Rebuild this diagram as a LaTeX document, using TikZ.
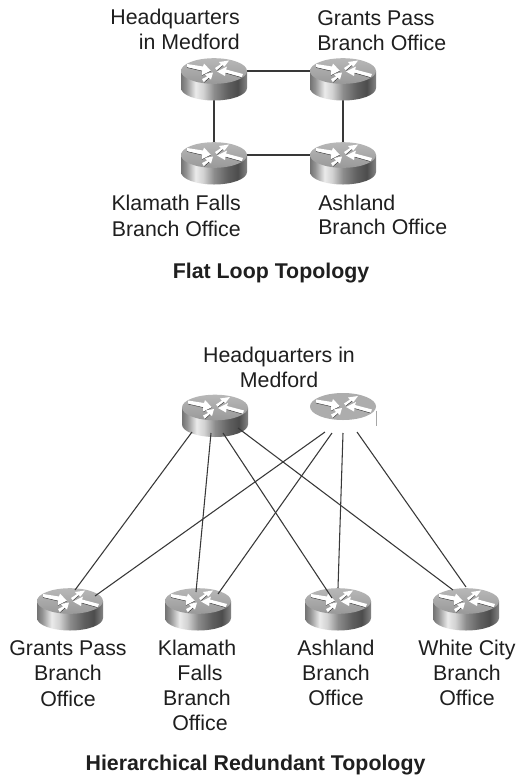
\documentclass[tikz,border=0pt]{standalone}
\usepackage{fontspec}
\setmainfont{Liberation Sans}
\pgfdeclarehorizontalshading{rbody}{100bp}{color(0bp)=(black!55); color(25bp)=(black!55); color(29bp)=(black!42); color(36bp)=(black!8); color(42bp)=(black!18); color(50bp)=(black!45); color(60bp)=(black!62); color(68bp)=(black!70); color(75bp)=(black!48); color(100bp)=(black!48)}
\pgfdeclareverticalshading{rtop}{100bp}{color(0bp)=(black!40); color(25bp)=(black!40); color(75bp)=(black!28); color(100bp)=(black!28)}
\tikzset{
  x=0.75pt,y=-0.75pt,
  rnode/.style={inner sep=0pt,minimum size=0pt},
  wire/.style={draw=black!78,line width=0.8pt},
  lab/.style={font=\fontsize{16pt}{18.9pt}\selectfont,align=center,inner sep=0pt,text=black!88},
  rlab/.style={lab,align=right},
  llab/.style={lab,align=left},
  ttl/.style={font=\bfseries\fontsize{16pt}{19pt}\selectfont,inner sep=0pt,text=black!88,anchor=base},
  shadowline/.style={draw=black!85,line width=0.3pt},
  rarrows/.pic={
    \fill[white] (-27,-7) -- (-11,-4.5) -- (-10,-7.5) -- (-3,0) -- (-12,4.5) -- (-12,0) -- (-27,-3.5) -- cycle;
    \draw[shadowline] (-27,-3.5) -- (-12,0) (-12,4.5) -- (-3,0);
    \fill[white] (1,-3) -- (7,-7) -- (5,-9) -- (15,-10.5) -- (10.5,-4.5) -- (9,-5.5) -- (3,-0.5) -- cycle;
    \draw[shadowline] (3,-0.5) -- (9,-5.5);
    \fill[white] (29,3) -- (12,-1.5) -- (13,-4.5) -- (3,0.5) -- (11,5) -- (11.5,2) -- (27.5,6.5) -- cycle;
    \draw[shadowline] (27.5,6.5) -- (11.5,2);
    \fill[white] (-12,8) -- (-7,5.5) -- (-9,3) -- (-1,1.5) -- (-3,8.5) -- (-5,7) -- (-10,11.5) -- cycle;
    \draw[shadowline] (-10,11.5) -- (-5,7);
  },
  router/.pic={
    \shade[shading=rbody] (-33,0) -- (-33,17) arc[start angle=180,end angle=0,x radius=33,y radius=12.5] -- (33,0) -- cycle;
    \shade[shading=rtop] (0,0) ellipse[x radius=33,y radius=12.8];
    \pic {rarrows};
  },
  whiterouter/.pic={
    \fill[black!32] (0,0) ellipse[x radius=33,y radius=13.5];
    \pic {rarrows};
    \draw[black!35,line width=0.5pt] (33,4) -- (33,19);
  }
}
\begin{document}
\begin{tikzpicture}
\useasboundingbox (0,0) rectangle (516,776);
\fill[white] (0,0) rectangle (516,776);
% router anchors
\node[rnode] (hq) at (214,71) {};
\node[rnode] (gp) at (343,71) {};
\node[rnode] (kf) at (214,155) {};
\node[rnode] (as) at (343,155) {};
\node[rnode] (h1) at (215,407.5) {};
\node[rnode] (h2) at (343,406.5) {};
\node[rnode] (b1) at (70,601) {};
\node[rnode] (b2) at (198,601) {};
\node[rnode] (b3) at (338,601) {};
\node[rnode] (b4) at (466,601) {};
% connector ends on the routers
\coordinate (s1) at (192,432);
\coordinate (s2) at (211,433);
\coordinate (s3) at (223,433);
\coordinate (s4) at (238,428);
\coordinate (u1) at (325,432);
\coordinate (u2) at (332,433);
\coordinate (u3) at (343,433);
\coordinate (u4) at (357,432);
\coordinate (e1) at (75,590);
\coordinate (e2) at (196,592);
\coordinate (e3) at (332,598);
\coordinate (e4) at (453,590);
\coordinate (f1) at (95,596);
\coordinate (f2) at (218,594);
\coordinate (f3) at (338,588);
\coordinate (f4) at (466,587);
% flat loop connectors
\draw[wire] (hq) -- (gp);
\draw[wire] (gp) -- (as);
\draw[wire] (as) -- (kf);
\draw[wire] (kf) -- (hq);
% routers
\pic at (hq) {router};
\pic at (gp) {router};
\pic at (kf) {router};
\pic at (as) {router};
\pic at (h1) {router};
\pic at (h2) {whiterouter};
\pic at (b1) {router};
\pic at (b2) {router};
\pic at (b3) {router};
\pic at (b4) {router};
% hierarchical connectors
\draw[wire] (s1) -- (e1);
\draw[wire] (s2) -- (e2);
\draw[wire] (s3) -- (e3);
\draw[wire] (s4) -- (e4);
\draw[wire] (u1) -- (f1);
\draw[wire] (u2) -- (f2);
\draw[wire] (u3) -- (f3);
\draw[wire] (u4) -- (f4);
% labels
\node[rlab,anchor=north east] (t1) at (240,8.5) {Headquarters\\in Medford};
\node[llab,anchor=north west] (t2) at (317,10) {Grants Pass\\Branch Office};
\node[rlab,anchor=north east] (t3) at (241,194.5) {Klamath Falls\\[0.75pt]Branch Office};
\node[llab,anchor=north west] (t4) at (318,194.5) {Ashland\\[-0.75pt]Branch Office};
\node[ttl] (t5) at (271,278) {Flat Loop Topology};
\node[lab,anchor=north] (t6) at (279,346.5) {Headquarters in\\Medford};
\node[lab,anchor=north] (t7) at (68,640.5) {Grants Pass\\Branch\\Office};
\node[lab,anchor=north] (t8) at (197,639.5) {Klamath\\\hspace*{4.5pt}Falls\\Branch\\\hspace*{4.5pt}Office};
\node[lab,anchor=north] (t9) at (336,639.5) {Ashland\\Branch\\Office};
\node[lab,anchor=north] (t10) at (467,639.5) {White City\\Branch\\Office};
\node[ttl] (t11) at (255.5,770) {Hierarchical Redundant Topology};
\end{tikzpicture}
\end{document}
